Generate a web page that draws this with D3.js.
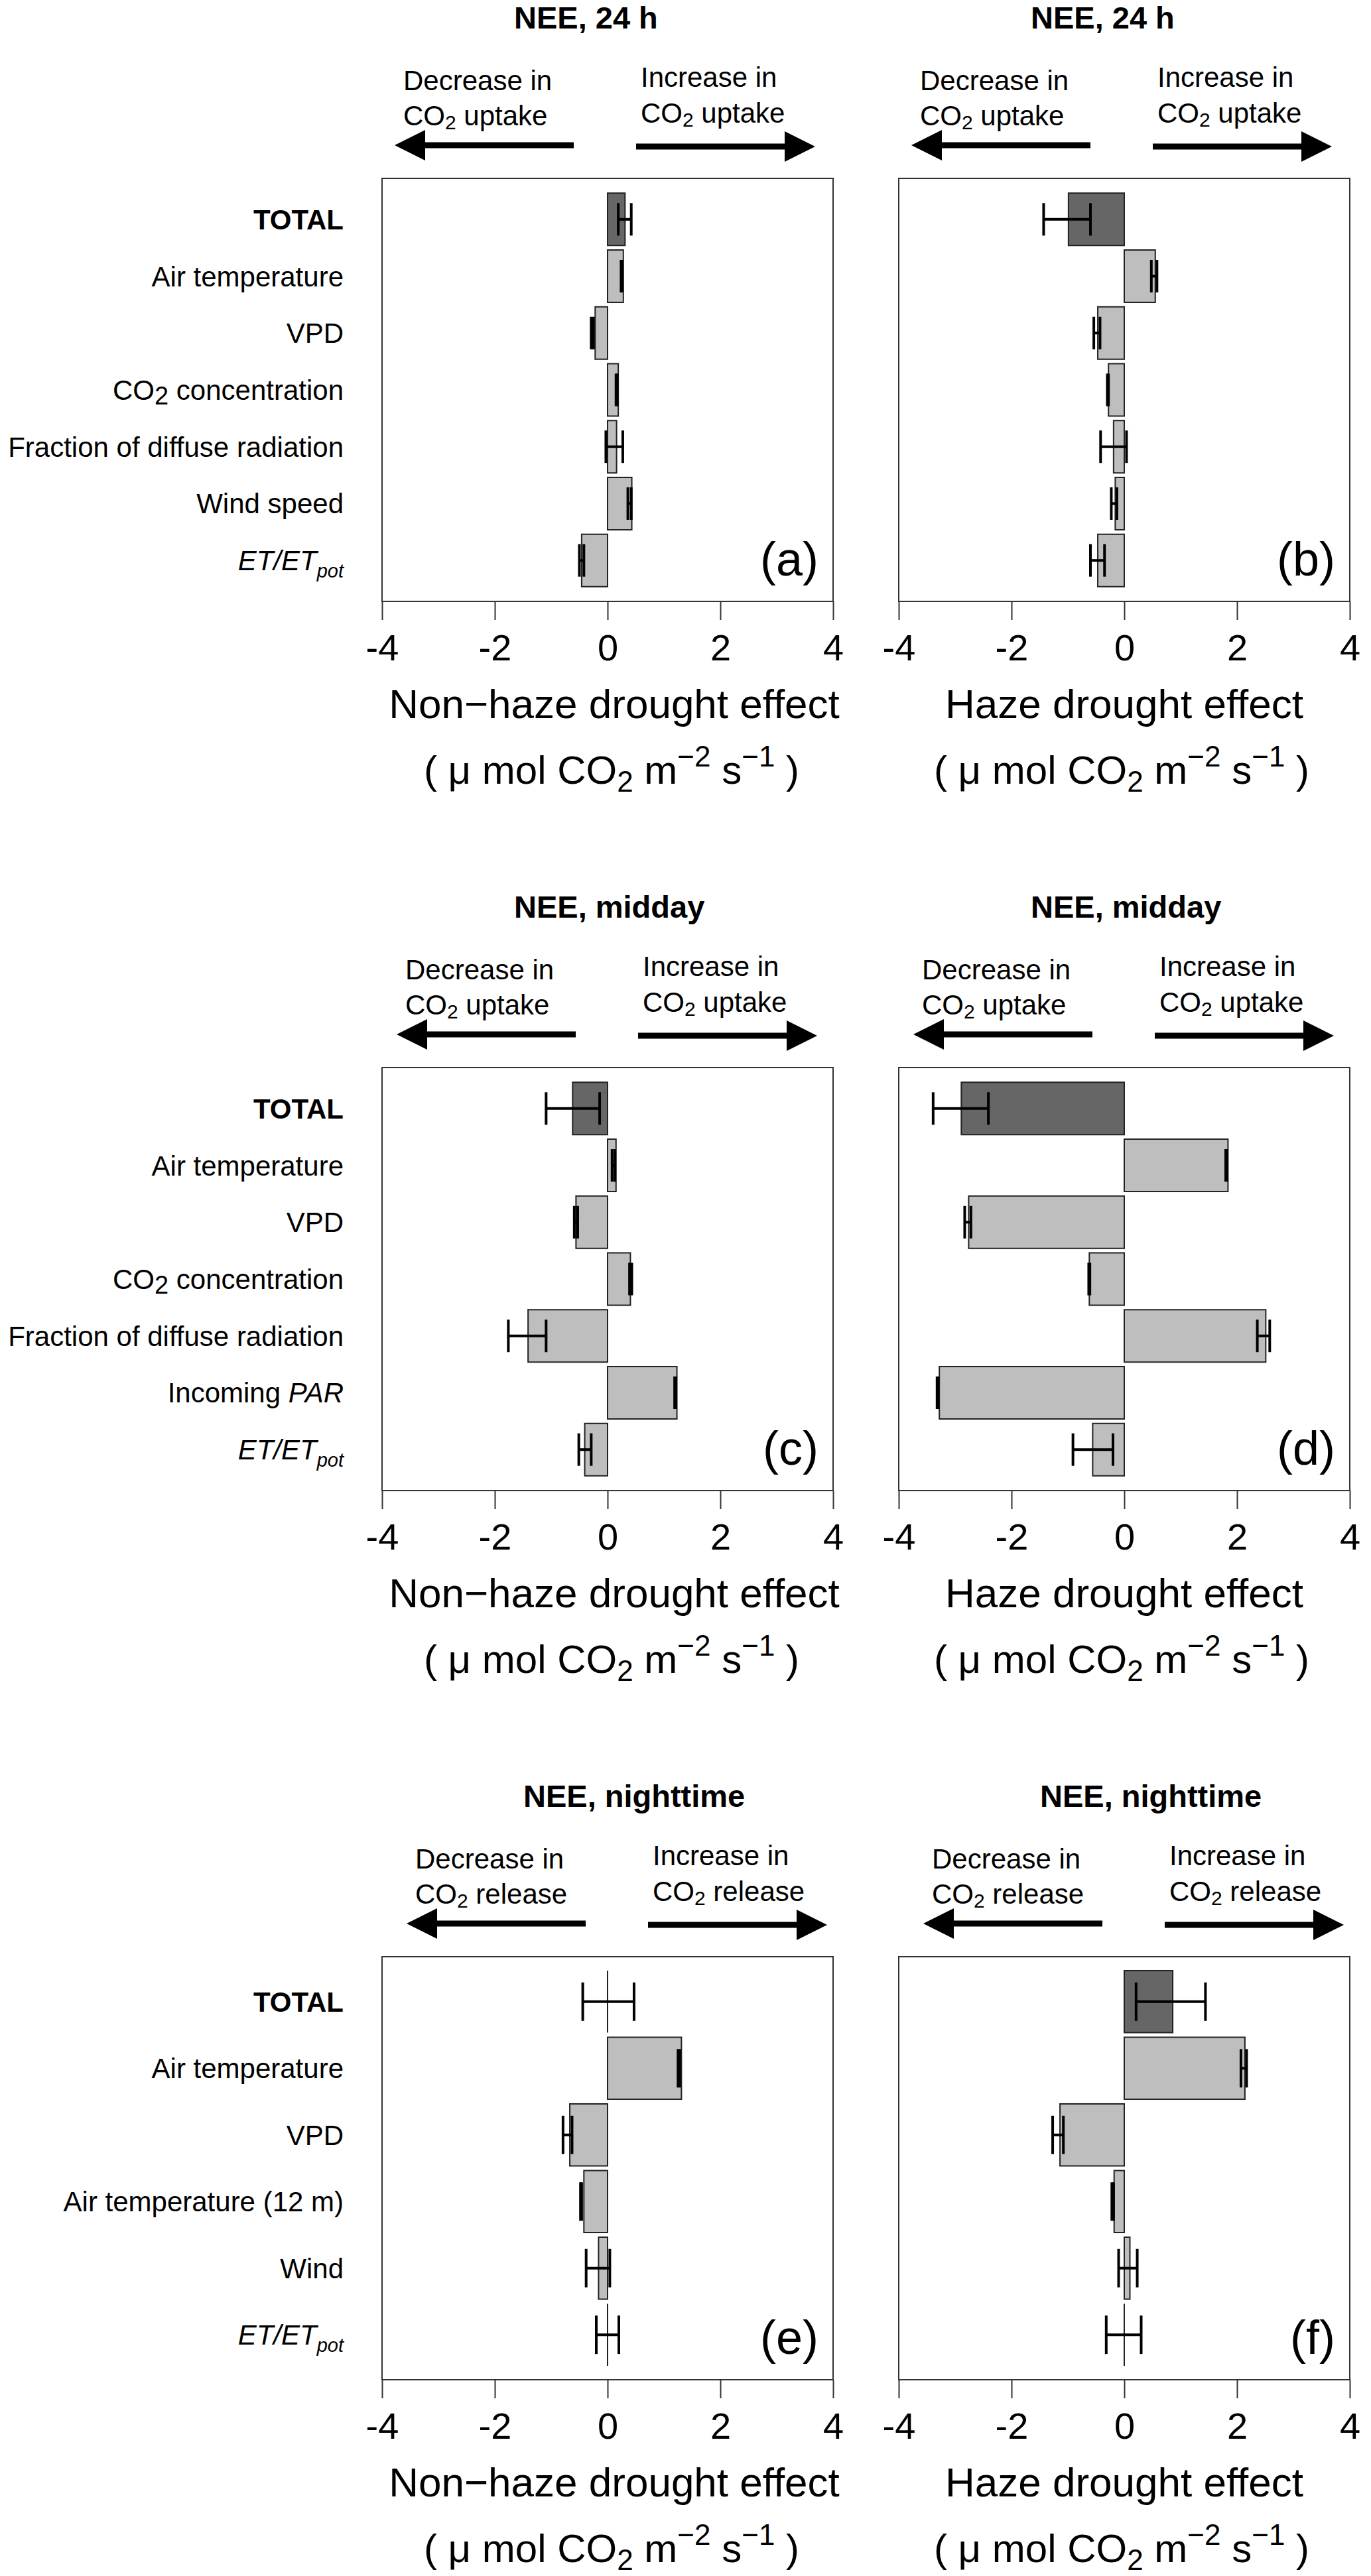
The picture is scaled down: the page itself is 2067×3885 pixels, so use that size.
<!DOCTYPE html>
<html><head><meta charset="utf-8">
<script src="https://cdn.jsdelivr.net/npm/d3@7"></script>
<style>
body{margin:0;background:#fff}
svg{display:block}
text{font-family:"Liberation Sans",Arial,Helvetica,sans-serif;fill:#000}
</style>
</head><body>
<svg id="chart" width="2067" height="3885"></svg>
<script>
// ---------- data ----------
const xTicks = [-4, -2, 0, 2, 4];
const rowTitles = ["NEE, 24 h", "NEE, midday", "NEE, nighttime"];
const rowFlux = ["uptake", "uptake", "release"];
const colAxisTitles = ["Non\u2212haze drought effect", "Haze drought effect"];
const panelLetters = ["(a)", "(b)", "(c)", "(d)", "(e)", "(f)"];

const cats24 = ["TOTAL", "Air temperature", "VPD", "CO2 concentration", "Fraction of diffuse radiation", "Wind speed", "ET/ETpot"];
const catsMidday = ["TOTAL", "Air temperature", "VPD", "CO2 concentration", "Fraction of diffuse radiation", "Incoming PAR", "ET/ETpot"];
const catsNight = ["TOTAL", "Air temperature", "VPD", "Air temperature (12 m)", "Wind", "ET/ETpot"];

// (a) 24 h, non-haze
const valA = [0.31, 0.28, -0.22, 0.19, 0.16, 0.43, -0.46];
const loA  = [0.19, 0.24, -0.29, 0.15, -0.03, 0.36, -0.50];
const hiA  = [0.42, 0.26, -0.25, 0.17, 0.27, 0.42, -0.42];
// (b) 24 h, haze
const valB = [-0.99, 0.55, -0.47, -0.28, -0.19, -0.16, -0.47];
const loB  = [-1.43, 0.48, -0.54, -0.30, -0.42, -0.23, -0.60];
const hiB  = [-0.60, 0.58, -0.43, -0.28, 0.04, -0.13, -0.35];
// (c) midday, non-haze
const valC = [-0.62, 0.15, -0.56, 0.405, -1.41, 1.23, -0.405];
const loC  = [-1.09, 0.08, -0.59, 0.39, -1.76, 1.19, -0.51];
const hiC  = [-0.14, 0.13, -0.53, 0.43, -1.09, 1.21, -0.29];
// (d) midday, haze
const valD = [-2.89, 1.84, -2.76, -0.62, 2.51, -3.28, -0.56];
const loD  = [-3.39, 1.80, -2.83, -0.63, 2.36, -3.32, -0.91];
const hiD  = [-2.41, 1.82, -2.72, -0.61, 2.58, -3.30, -0.20];
// (e) nighttime, non-haze
const valE = [0.0, 1.31, -0.67, -0.42, -0.16, 0.0];
const loE  = [-0.44, 1.25, -0.79, -0.48, -0.38, -0.20];
const hiE  = [0.47, 1.28, -0.63, -0.46, 0.04, 0.20];
// (f) nighttime, haze
const valF = [0.86, 2.14, -1.14, -0.18, 0.10, 0.0];
const loF  = [0.21, 2.07, -1.27, -0.22, -0.10, -0.32];
const hiF  = [1.44, 2.17, -1.08, -0.19, 0.23, 0.30];

const panels = [
  {row:0, col:0, cats:cats24, v:valA, lo:loA, hi:hiA},
  {row:0, col:1, cats:cats24, v:valB, lo:loB, hi:hiB},
  {row:1, col:0, cats:catsMidday, v:valC, lo:loC, hi:hiC},
  {row:1, col:1, cats:catsMidday, v:valD, lo:loD, hi:hiD},
  {row:2, col:0, cats:catsNight, v:valE, lo:loE, hi:hiE},
  {row:2, col:1, cats:catsNight, v:valF, lo:loF, hi:hiF}
];

// ---------- layout ----------
const rowTops = [269, 1610, 2951];
const colLefts = [576, 1355];
const W = 680, H = 638;
const annShift = [0, 3, 18];
const titleShift = [0, 0, 14];

const svg = d3.select("#chart");

function addLabel(g, cat, x, y) {
  const t = g.append("text").attr("x", x).attr("y", y)
    .attr("text-anchor", "end").style("font-size", "42px");
  if (cat === "TOTAL") {
    t.style("font-weight", "bold").text(cat);
  } else if (cat.startsWith("CO2")) {
    t.append("tspan").text("CO");
    t.append("tspan").attr("dy", 7).style("font-size", "38px").text("2");
    t.append("tspan").attr("dy", -7).text(cat.slice(3));
  } else if (cat === "ET/ETpot") {
    t.append("tspan").style("font-style", "italic").text("ET/ET");
    t.append("tspan").attr("dy", 11).style("font-style", "italic").style("font-size", "29px").text("pot");
  } else if (cat === "Incoming PAR") {
    t.append("tspan").text("Incoming ");
    t.append("tspan").style("font-style", "italic").text("PAR");
  } else {
    t.text(cat);
  }
}

function co2Line(g, x, y, word) {
  const t = g.append("text").attr("x", x).attr("y", y).style("font-size", "42px");
  t.append("tspan").text("CO");
  t.append("tspan").attr("dy", 6).style("font-size", "30px").text("2");
  t.append("tspan").attr("dy", -6).text(" " + word);
}

function arrowPath(tail, tip, y) {
  const dir = tip > tail ? 1 : -1;
  const hl = 46, hh = 23, sh = 4.5;
  const b = tip - dir * hl;
  return `M${tail},${y - sh}L${b},${y - sh}L${b},${y - hh}L${tip},${y}L${b},${y + hh}L${b},${y + sh}L${tail},${y + sh}Z`;
}

panels.forEach((p, pi) => {
  const left = colLefts[p.col], top = rowTops[p.row];
  const n = p.cats.length;
  const g = svg.append("g");

  const x = d3.scaleLinear().domain([-4, 4]).range([left, left + W]);
  const y = d3.scaleBand().domain(d3.range(n)).range([top, top + H])
    .paddingInner(n === 7 ? 0.078 : 0.07)
    .paddingOuter(n === 7 ? 0.26 : 0.21);
  const bw = y.bandwidth();

  // title
  g.append("text").attr("x", left + 199 + titleShift[p.row]).attr("y", top - 226)
    .style("font-size", "47px").style("font-weight", "bold").text(rowTitles[p.row]);

  // annotations
  const s = annShift[p.row];
  g.append("text").attr("x", left + 32 + s).attr("y", top - 133).style("font-size", "42px").text("Decrease in");
  co2Line(g, left + 32 + s, top - 80, rowFlux[p.row]);
  g.append("text").attr("x", left + 390 + s).attr("y", top - 138).style("font-size", "42px").text("Increase in");
  co2Line(g, left + 390 + s, top - 84, rowFlux[p.row]);
  g.append("path").attr("d", arrowPath(left + 289 + s, left + 19 + s, top - 50)).attr("fill", "#000");
  g.append("path").attr("d", arrowPath(left + 383 + s, left + 653 + s, top - 48)).attr("fill", "#000");

  // bars (drawn as paths so that zero-width bars still show their outline)
  g.selectAll("path.bar").data(p.v).join("path").attr("class", "bar")
    .attr("d", (d, i) => {
      const x0 = x(Math.min(0, d)), w = Math.abs(x(d) - x(0)), y0 = y(i);
      return `M${x0},${y0}h${w}v${bw}h${-w}Z`;
    })
    .attr("fill", (d, i) => i === 0 ? "#666666" : "#bebebe")
    .attr("stroke", "#222").attr("stroke-width", 2);

  // error bars
  const capH = bw * 0.31;
  p.v.forEach((d, i) => {
    const cy = y(i) + bw / 2;
    const eg = g.append("g").attr("stroke", "#000").attr("stroke-width", 4).attr("fill", "none");
    eg.append("line").attr("x1", x(p.lo[i])).attr("x2", x(p.hi[i])).attr("y1", cy).attr("y2", cy);
    eg.append("line").attr("x1", x(p.lo[i])).attr("x2", x(p.lo[i])).attr("y1", cy - capH).attr("y2", cy + capH);
    eg.append("line").attr("x1", x(p.hi[i])).attr("x2", x(p.hi[i])).attr("y1", cy - capH).attr("y2", cy + capH);
  });

  // box
  g.append("rect").attr("x", left).attr("y", top).attr("width", W).attr("height", H)
    .attr("fill", "none").attr("stroke", "#333").attr("stroke-width", 2);

  // axis
  const ax = g.append("g").attr("transform", `translate(0,${top + H})`)
    .call(d3.axisBottom(x).tickValues(xTicks).tickSize(28).tickFormat(d => String(d)));
  ax.select(".domain").remove();
  ax.selectAll(".tick line").attr("stroke", "#333").attr("stroke-width", 2);
  ax.selectAll(".tick text").attr("y", 89).attr("dy", null)
    .style("font-size", "56px").style("font-family", "'Liberation Sans',Arial,sans-serif").attr("fill", "#000");

  // panel letter
  g.append("text").attr("x", left + W - 22).attr("y", top + H - 39)
    .attr("text-anchor", "end").style("font-size", "72px").text(panelLetters[pi]);

  // axis titles
  const cx = left + W / 2 + (p.col === 0 ? 10 : 0);
  g.append("text").attr("x", cx).attr("y", top + H + 176).attr("text-anchor", "middle")
    .style("font-size", "62px").text(colAxisTitles[p.col]);
  const u = g.append("text").attr("x", cx - 4).attr("y", top + H + 275).attr("text-anchor", "middle")
    .style("font-size", "60px");
  u.append("tspan").text("( \u03bc mol CO");
  u.append("tspan").attr("dy", 12).style("font-size", "44px").text("2");
  u.append("tspan").attr("dy", -12).text(" m");
  u.append("tspan").attr("dy", -26).style("font-size", "44px").text("\u22122");
  u.append("tspan").attr("dy", 26).text(" s");
  u.append("tspan").attr("dy", -26).style("font-size", "44px").text("\u22121");
  u.append("tspan").attr("dy", 26).text(" )");

  // category labels (left column only)
  if (p.col === 0) {
    p.cats.forEach((c, i) => addLabel(g, c, 518, y(i) + bw / 2 + 15));
  }
});
</script>
</body></html>
